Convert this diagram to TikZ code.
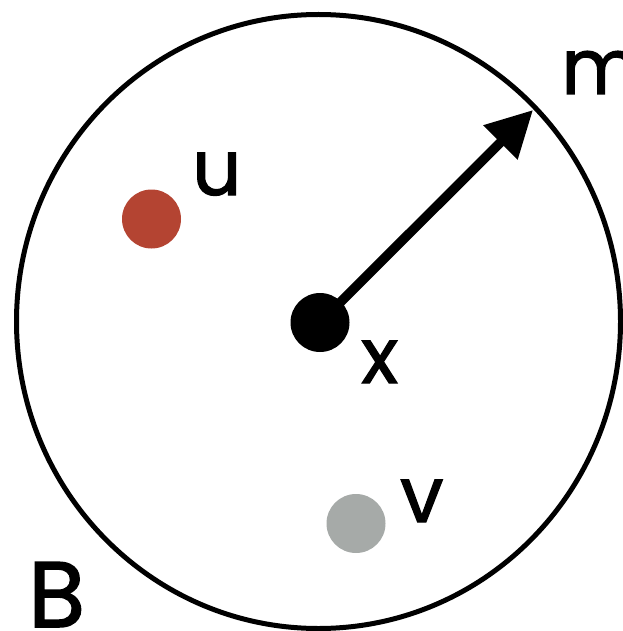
\documentclass[tikz,border=0pt]{standalone}
\usepackage{fontspec}
\setmainfont{Poppins}[FakeBold=1.6]
\usetikzlibrary{arrows.meta}
\definecolor{dotred}{RGB}{180,68,50}
\definecolor{dotgray}{RGB}{166,170,168}
\begin{document}
\begin{tikzpicture}[x=1pt,y=-1pt,
  dot/.style={circle,minimum size=59pt,inner sep=0pt},
  lbl/.style={anchor=base west,inner sep=0pt,font=\fontsize{77}{80}\selectfont},
  bigl/.style={anchor=base west,inner sep=0pt,font=\fontsize{93}{96}\selectfont},
  arr/.style={line width=9.5pt,-{Triangle[length=46pt,width=46pt]}}]
\useasboundingbox (0,0) rectangle (622,631);
\draw[line width=5pt] (318.5,321.5) ellipse [x radius=302, y radius=307];
\node[dot,fill=black] (x) at (320,322.5) {};
\node[dot,fill=dotred] (u) at (151.5,219) {};
\node[dot,fill=dotgray] (v) at (356,523.5) {};
\coordinate (tip) at (533,110);
\draw[arr] (x.center) -- (tip);
\node[lbl] (lu) at (192,195) {u};
\node[lbl] (lx) at (361,383) {x};
\node[lbl] (lv) at (400,522) {v};
\node[lbl] (lm) at (561,94) {m};
\node[bigl] (lB) at (28,627) {B};
\end{tikzpicture}
\end{document}
